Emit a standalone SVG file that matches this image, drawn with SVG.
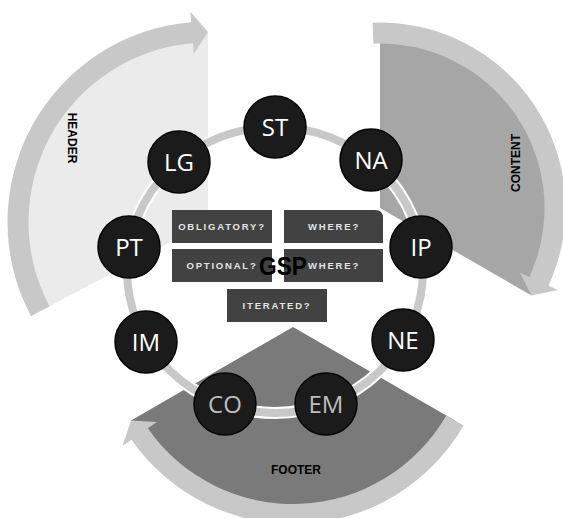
<svg xmlns="http://www.w3.org/2000/svg" width="563" height="518" viewBox="0 0 563 518">
<style>
.band{fill:#c8c8c8}
.lbl{font-family:"Liberation Sans",Arial,sans-serif;font-weight:bold;font-size:12px;fill:#000;text-anchor:middle}
.node circle{fill:#1b1b1b;stroke:#050505;stroke-width:1.5}
.node text{font-family:"Open Sans","Noto Sans",sans-serif;font-size:24px;fill:#fff;text-anchor:middle}
.node.dim text{fill:#bdbdbd}
.box rect,.box path{fill:#424242}
.box text{font-family:"Liberation Sans",Arial,sans-serif;font-weight:bold;font-size:9.5px;letter-spacing:1.8px;fill:#e4e4e4;text-anchor:middle}
</style>
<rect width="563" height="518" fill="#fff"/>
<g id="header">
<path d="M208,222 L40.2,311.2 A190,190 0 0,1 208,32 Z" fill="#ebebeb"/>
<path class="band" d="M30.97,316.13 A200.5,200.5 0 0,1 191.22,22.2 L190.34,11.74 L208,32 L193.86,53.59 L192.98,43.13 A179.5,179.5 0 0,0 49.51,306.27 Z"/>
<text class="lbl" transform="translate(72,138) rotate(90)" y="4">HEADER</text>
</g>
<g id="content">
<path d="M380,208 L380,33 A175,175 0 0,1 531.55,295.5 Z" fill="#a6a6a6"/>
<path class="band" d="M372.56,22.65 A185.5,185.5 0 0,1 548.45,285.69 L557.98,290.09 L531.55,295.5 L519.84,272.5 L529.38,276.89 A164.5,164.5 0 0,0 373.4,43.63 Z"/>
<text class="lbl" transform="translate(516,163) rotate(-90)" y="4">CONTENT</text>
</g>
<g id="footer">
<path d="M293,327 L454.95,420.5 A187,187 0 0,1 131.05,420.5 Z" fill="#7a7a7a"/>
<path class="band" d="M463.61,425.5 A197,197 0 0,1 131.43,439.71 L122.41,446.01 L131.05,420.5 L156.86,421.98 L147.83,428.27 A177,177 0 0,0 446.29,415.5 Z"/>
<text class="lbl" x="296" y="474" font-size="12.5">FOOTER</text>
</g>
<g id="connectors">
<ellipse cx="275" cy="270" rx="148" ry="143" fill="none" stroke="#fff" stroke-width="12"/>
<ellipse cx="275" cy="270" rx="148" ry="143" fill="none" stroke="#c8c8c8" stroke-width="8"/>
</g>
<g id="node-ST" class="node"><circle cx="275" cy="127" r="31"/><text x="275" y="135.5">ST</text></g>
<g id="node-NA" class="node"><circle cx="371" cy="160" r="31"/><text x="371" y="168.5">NA</text></g>
<g id="node-IP" class="node"><circle cx="421" cy="247" r="31"/><text x="421" y="255.5">IP</text></g>
<g id="node-NE" class="node"><circle cx="403" cy="340" r="31"/><text x="403" y="348.5">NE</text></g>
<g id="node-EM" class="node dim"><circle cx="326" cy="404" r="31"/><text x="326" y="412.5">EM</text></g>
<g id="node-CO" class="node dim"><circle cx="225" cy="404" r="31"/><text x="225" y="412.5">CO</text></g>
<g id="node-IM" class="node"><circle cx="146" cy="342" r="31"/><text x="146" y="350.5">IM</text></g>
<g id="node-PT" class="node"><circle cx="129" cy="247" r="31"/><text x="129" y="255.5">PT</text></g>
<g id="node-LG" class="node"><circle cx="179" cy="162" r="31"/><text x="179" y="170.5">LG</text></g>
<g id="box-obligatory" class="box"><rect x="172" y="210" width="100" height="33"/><text x="222" y="229.5">OBLIGATORY?</text></g>
<g id="box-where1" class="box"><path d="M284,210 H375 Q383,210 383,218 V243 H284 Z"/><text x="334" y="229.5">WHERE?</text></g>
<g id="box-optional" class="box"><rect x="172" y="249" width="100" height="33"/><text x="222" y="268.5">OPTIONAL?</text></g>
<g id="box-where2" class="box"><rect x="284" y="249" width="99" height="33"/><text x="334" y="268.5">WHERE?</text></g>
<g id="box-iterated" class="box"><rect x="227" y="289" width="100" height="33"/><text x="277" y="308.5">ITERATED?</text></g>
<g id="gsp"><text x="283" y="275" font-family="Liberation Sans,Arial,sans-serif" font-weight="bold" font-size="26" text-anchor="middle" textLength="48" lengthAdjust="spacingAndGlyphs" fill="#000">GSP</text></g>
</svg>
